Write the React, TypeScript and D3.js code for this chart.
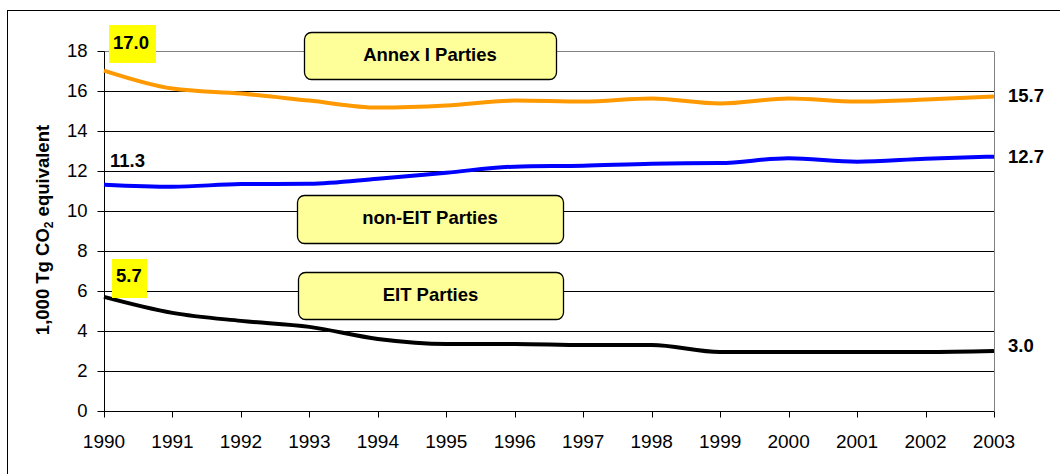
import { useRef, useEffect } from "react";
import * as d3 from "d3";

const years = [1990, 1991, 1992, 1993, 1994, 1995, 1996, 1997, 1998, 1999, 2000, 2001, 2002, 2003];
const annexI = [17.0, 16.1, 15.85, 15.5, 15.15, 15.25, 15.5, 15.45, 15.6, 15.35, 15.6, 15.45, 15.55, 15.7];
const nonEIT = [11.3, 11.2, 11.33, 11.35, 11.6, 11.9, 12.2, 12.25, 12.35, 12.38, 12.62, 12.45, 12.6, 12.7];
const eit = [5.7, 4.9, 4.5, 4.2, 3.6, 3.35, 3.35, 3.3, 3.3, 2.95, 2.95, 2.95, 2.95, 3.0];
const yTicks = [0, 2, 4, 6, 8, 10, 12, 14, 16, 18];

const FONT = "'Liberation Sans', Arial, sans-serif";

export default function App() {
  const ref = useRef<SVGSVGElement | null>(null);

  useEffect(() => {
    if (!ref.current) return;
    const W = 1060;
    const H = 474;
    const svg = d3.select(ref.current);
    svg.selectAll("*").remove();
    svg.attr("width", W).attr("height", H);

    const x = d3.scaleLinear().domain([1990, 2003]).range([104, 994]);
    const y = d3.scaleLinear().domain([0, 18]).range([411, 50.5]);
    const px = (v: number) => Math.round(v) + 0.5;

    svg.append("rect").attr("width", W).attr("height", H).attr("fill", "#fff");
    // outer chart frame
    svg.append("rect")
      .attr("x", 7.5).attr("y", 10.5).attr("width", 1100).attr("height", 600)
      .attr("fill", "none").attr("stroke", "#000").attr("stroke-width", 1);

    // gridlines
    svg.append("g").selectAll("line")
      .data(yTicks.filter((t) => t > 0))
      .join("line")
      .attr("x1", x(1990)).attr("x2", x(2003))
      .attr("y1", (d) => px(y(d))).attr("y2", (d) => px(y(d)))
      .attr("stroke", (d) => (d === 18 ? "#808080" : "#000"))
      .attr("stroke-width", 1);

    // plot area right border
    svg.append("line")
      .attr("x1", px(x(2003))).attr("x2", px(x(2003)))
      .attr("y1", px(y(18))).attr("y2", px(y(0)))
      .attr("stroke", "#808080");

    // y axis
    const gy = svg.append("g").attr("transform", `translate(${px(x(1990))},0)`);
    gy.append("line").attr("y1", px(y(18))).attr("y2", px(y(0))).attr("stroke", "#000");
    gy.selectAll("line.tk").data(yTicks).join("line").attr("class", "tk")
      .attr("x1", -7).attr("x2", 0)
      .attr("y1", (d) => px(y(d))).attr("y2", (d) => px(y(d)))
      .attr("stroke", "#000");
    gy.selectAll("text").data(yTicks).join("text")
      .attr("x", -17).attr("y", (d) => y(d))
      .attr("dy", "0.35em").attr("text-anchor", "end")
      .attr("font-family", FONT).attr("font-size", 18.5).attr("fill", "#000")
      .text((d) => d);

    // x axis
    const gx = svg.append("g").attr("transform", `translate(0,${px(y(0))})`);
    gx.append("line").attr("x1", x(1990)).attr("x2", x(2003)).attr("stroke", "#000");
    gx.selectAll("line.tk").data(years).join("line").attr("class", "tk")
      .attr("x1", (d) => px(x(d))).attr("x2", (d) => px(x(d)))
      .attr("y1", 0).attr("y2", 6)
      .attr("stroke", "#000");
    gx.selectAll("text").data(years).join("text")
      .attr("x", (d) => x(d)).attr("y", 36)
      .attr("text-anchor", "middle")
      .attr("font-family", FONT).attr("font-size", 19).attr("fill", "#000")
      .text((d) => d);

    // y axis title
    const title = svg.append("text")
      .attr("transform", "translate(49,230) rotate(-90)")
      .attr("text-anchor", "middle")
      .attr("font-family", FONT).attr("font-size", 18.5).attr("font-weight", "bold")
      .attr("fill", "#000");
    title.append("tspan").text("1,000 Tg CO");
    title.append("tspan").attr("font-size", 12).attr("dy", 4).text("2");
    title.append("tspan").attr("dy", -4).text(" equivalent");

    // series lines
    const series = [
      { vals: annexI, color: "#FF9900" },
      { vals: nonEIT, color: "#0000FF" },
      { vals: eit, color: "#000000" },
    ];
    const line = d3.line<number>()
      .x((_, i) => x(years[i]))
      .y((d) => y(d))
      .curve(d3.curveMonotoneX);
    series.forEach((s) => {
      svg.append("path")
        .datum(s.vals)
        .attr("fill", "none").attr("stroke", s.color).attr("stroke-width", 4)
        .attr("stroke-linejoin", "round")
        .attr("d", line);
    });

    // value labels
    const labelFont = (sel: any) => sel
      .attr("font-family", FONT).attr("font-size", 18.5).attr("font-weight", "bold").attr("fill", "#000");

    svg.append("rect").attr("x", 109).attr("y", 25).attr("width", 47).attr("height", 38).attr("fill", "#FFFF00");
    svg.append("text").attr("x", 113).attr("y", 48.5).call(labelFont).text(annexI[0].toFixed(1));
    svg.append("text").attr("x", 110).attr("y", 166.5).call(labelFont).text(nonEIT[0].toFixed(1));
    svg.append("rect").attr("x", 112).attr("y", 259).attr("width", 35).attr("height", 39).attr("fill", "#FFFF00");
    svg.append("text").attr("x", 116).attr("y", 281.5).call(labelFont).text(eit[0].toFixed(1));

    svg.append("text").attr("x", 1008).attr("y", 101.5).call(labelFont).text(annexI[13].toFixed(1));
    svg.append("text").attr("x", 1008).attr("y", 162.5).call(labelFont).text(nonEIT[13].toFixed(1));
    svg.append("text").attr("x", 1008).attr("y", 351.5).call(labelFont).text(eit[13].toFixed(1));

    // series name boxes
    const boxes = [
      { label: "Annex I Parties", x0: 304, x1: 556, y0: 32, y1: 79, base: 60.5 },
      { label: "non-EIT Parties", x0: 297, x1: 563, y0: 195, y1: 243, base: 224 },
      { label: "EIT Parties", x0: 298, x1: 563, y0: 272, y1: 319, base: 300.5 },
    ];
    boxes.forEach((b) => {
      svg.append("rect")
        .attr("x", b.x0 + 0.5).attr("y", b.y0 + 0.5)
        .attr("width", b.x1 - b.x0).attr("height", b.y1 - b.y0)
        .attr("rx", 7).attr("ry", 7)
        .attr("fill", "#FFFF99").attr("stroke", "#000").attr("stroke-width", 1.3);
      svg.append("text")
        .attr("x", (b.x0 + b.x1) / 2).attr("y", b.base)
        .attr("text-anchor", "middle")
        .call(labelFont)
        .text(b.label);
    });
  }, []);

  return (
    <div style={{ position: "absolute", left: 0, top: 0 }}>
      <svg ref={ref} style={{ display: "block" }} />
    </div>
  );
}
